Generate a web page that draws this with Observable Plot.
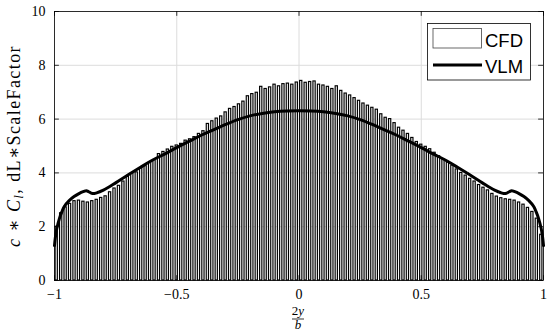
<!DOCTYPE html>
<html><head><meta charset="utf-8">
<script src="https://cdn.jsdelivr.net/npm/d3@7"></script>
<script src="https://cdn.jsdelivr.net/npm/@observablehq/plot@0.6"></script>
<style>body{margin:0;background:#fff} #chart{width:550px;height:335px}</style>
</head><body><div id="chart"></div>
<script>
const cfdX = [-0.9909,-0.9727,-0.9545,-0.9364,-0.9182,-0.9000,-0.8818,-0.8636,-0.8455,-0.8273,
-0.8091,-0.7909,-0.7727,-0.7545,-0.7364,-0.7182,-0.7000,-0.6818,-0.6636,-0.6455,
-0.6273,-0.6091,-0.5909,-0.5727,-0.5545,-0.5364,-0.5182,-0.5000,-0.4818,-0.4636,
-0.4455,-0.4273,-0.4091,-0.3909,-0.3727,-0.3545,-0.3364,-0.3182,-0.3000,-0.2818,
-0.2636,-0.2455,-0.2273,-0.2091,-0.1909,-0.1727,-0.1545,-0.1364,-0.1182,-0.1000,
-0.0818,-0.0636,-0.0455,-0.0273,-0.0091,0.0091,0.0273,0.0455,0.0636,0.0818,
0.1000,0.1182,0.1364,0.1545,0.1727,0.1909,0.2091,0.2273,0.2455,0.2636,
0.2818,0.3000,0.3182,0.3364,0.3545,0.3727,0.3909,0.4091,0.4273,0.4455,
0.4636,0.4818,0.5000,0.5182,0.5364,0.5545,0.5727,0.5909,0.6091,0.6273,
0.6455,0.6636,0.6818,0.7000,0.7182,0.7364,0.7545,0.7727,0.7909,0.8091,
0.8273,0.8455,0.8636,0.8818,0.9000,0.9182,0.9364,0.9545,0.9727,0.9909];
const cfdY = [2.0,2.5,2.72,2.85,2.95,2.97,2.93,2.9,2.95,3.0,
3.07,3.13,3.28,3.42,3.52,3.68,3.85,3.98,4.02,4.17,
4.25,4.4,4.48,4.7,4.78,4.87,4.97,5.02,5.08,5.2,
5.25,5.33,5.45,5.55,5.82,5.92,6.02,6.1,6.25,6.38,
6.45,6.55,6.65,6.85,6.93,6.98,7.2,7.12,7.18,7.28,
7.22,7.3,7.32,7.28,7.36,7.42,7.35,7.38,7.4,7.28,
7.25,7.2,7.12,7.22,7.05,6.95,6.88,6.78,6.68,6.58,
6.5,6.42,6.35,6.18,6.05,6.0,5.85,5.68,5.57,5.45,
5.3,5.15,5.05,4.97,4.88,4.75,4.62,4.5,4.38,4.27,
4.13,4.0,3.9,3.78,3.68,3.55,3.45,3.35,3.22,3.12,
3.06,3.02,3.0,2.97,2.9,2.82,2.7,2.55,2.3,1.7];
const vlmX = [-1,-0.995,-0.99,-0.98,-0.97,-0.96,-0.94,-0.92,-0.90,-0.88,-0.87,-0.86,-0.85,-0.84,-0.83,-0.80,-0.75,-0.70,-0.65,-0.60,-0.55,-0.50,-0.45,-0.40,-0.35,-0.30,-0.25,-0.20,-0.15,-0.10,-0.05,
0,
0.05,0.10,0.15,0.20,0.25,0.30,0.35,0.40,0.45,0.50,0.55,0.60,0.65,0.70,0.75,0.80,0.83,0.84,0.85,0.86,0.87,0.88,0.90,0.92,0.94,0.96,0.97,0.98,0.99,0.995,1];
const vlmY = [1.3,1.7,1.95,2.3,2.55,2.75,2.97,3.12,3.23,3.31,3.34,3.3,3.25,3.23,3.25,3.36,3.63,3.92,4.2,4.47,4.7,4.94,5.17,5.4,5.6,5.8,5.98,6.12,6.21,6.27,6.3,
6.31,
6.3,6.27,6.21,6.12,5.98,5.8,5.6,5.4,5.17,4.94,4.7,4.47,4.2,3.92,3.63,3.36,3.25,3.23,3.25,3.3,3.34,3.31,3.23,3.12,2.97,2.75,2.55,2.3,1.95,1.7,1.3];
const xTicks = [-1,-0.5,0,0.5,1];
const xTickLabels = ["\u22121","\u22120.5","0","0.5","1"];
const yTicks = [0,2,4,6,8,10];
const yTickLabels = ["0","2","4","6","8","10"];
const legendLabels = ["CFD","VLM"];

const cfd = cfdX.map((x,i)=>({x, y: cfdY[i]}));
const vlm = vlmX.map((x,i)=>({x, y: vlmY[i]}));
const half = 1/110;
const serif = "'Liberation Serif', 'DejaVu Serif', serif";
const sans = "'Liberation Sans', Arial, sans-serif";

const chart = Plot.plot({
  width:550, height:335, marginLeft:54, marginRight:7, marginTop:11, marginBottom:55,
  style:{fontFamily:serif, fontSize:"14px", background:"white", color:"black"},
  x:{domain:[-1,1], label:null},
  y:{domain:[0,10], label:null},
  marks:[
    Plot.gridX(xTicks,{stroke:"#dcdcdc", strokeOpacity:1}),
    Plot.gridY(yTicks,{stroke:"#dcdcdc", strokeOpacity:1}),
    Plot.rectY(cfd,{x1:d=>d.x-half, x2:d=>d.x+half, y1:0, y2:"y", insetLeft:1.1, insetRight:1.1, fill:"#f4f4f4", stroke:"black", strokeWidth:1.15}),
    Plot.line(vlm,{x:"x",y:"y",stroke:"black",strokeWidth:3, curve:"catmull-rom"}),
    Plot.ruleX(xTicks,{x:d=>d, y1:0, y2:0.18, stroke:"black", strokeWidth:0.8}),
    Plot.ruleX(xTicks,{x:d=>d, y1:10, y2:9.82, stroke:"black", strokeWidth:0.8}),
    Plot.ruleY(yTicks,{y:d=>d, x1:-1, x2:-0.98, stroke:"black", strokeWidth:0.8}),
    Plot.ruleY(yTicks,{y:d=>d, x1:1, x2:0.98, stroke:"black", strokeWidth:0.8}),
    Plot.axisX(xTicks,{tickSize:0, tickPadding:9, fontSize:14, tickFormat:d=>xTickLabels[xTicks.indexOf(d)]}),
    Plot.axisY(yTicks,{tickSize:0, tickPadding:9, fontSize:14, tickFormat:d=>yTickLabels[yTicks.indexOf(d)]}),
    Plot.frame({stroke:"black", strokeWidth:0.8})
  ]
});
document.getElementById("chart").appendChild(chart);
const svg = d3.select(chart);

// y-axis title
const yt = svg.append("text")
  .attr("transform","translate(20,146) rotate(-90)")
  .attr("text-anchor","middle")
  .style("font-family",serif).style("font-size","18px").style("letter-spacing","1.4px").attr("fill","black");
yt.append("tspan").attr("font-style","italic").text("c");
yt.append("tspan").text(" \u2217 ");
yt.append("tspan").attr("font-style","italic").text("C");
yt.append("tspan").attr("font-style","italic").attr("font-size","13px").attr("dy",3).text("l");
yt.append("tspan").attr("dy",-3).text(", dL\u2217ScaleFactor");

// x-axis title (fraction 2y/b)
const xt = svg.append("g").style("font-family",serif).style("font-size","13px").attr("fill","black");
const numer = xt.append("text").attr("x",298).attr("y",315).attr("text-anchor","middle");
numer.append("tspan").text("2");
numer.append("tspan").attr("font-style","italic").text("y");
xt.append("line").attr("x1",292).attr("x2",304).attr("y1",319).attr("y2",319).attr("stroke","black").attr("stroke-width",0.8);
xt.append("text").attr("x",298).attr("y",329).attr("text-anchor","middle").attr("font-style","italic").text("b");

// legend
const lg = svg.append("g");
lg.append("rect").attr("x",427.5).attr("y",23.5).attr("width",103).attr("height",56.5).attr("fill","white").attr("stroke","black").attr("stroke-width",0.8);
lg.append("rect").attr("x",433).attr("y",28.5).attr("width",48.5).attr("height",19.5).attr("fill","white").attr("stroke","#444").attr("stroke-width",0.8);
lg.append("line").attr("x1",433).attr("x2",482).attr("y1",65).attr("y2",65).attr("stroke","black").attr("stroke-width",3);
lg.append("text").attr("x",485).attr("y",47).attr("text-anchor","start").style("font-family",sans).style("font-size","18.5px").attr("fill","black").text(legendLabels[0]);
lg.append("text").attr("x",485).attr("y",72.5).attr("text-anchor","start").style("font-family",sans).style("font-size","18.5px").attr("fill","black").text(legendLabels[1]);
</script>
</body></html>
